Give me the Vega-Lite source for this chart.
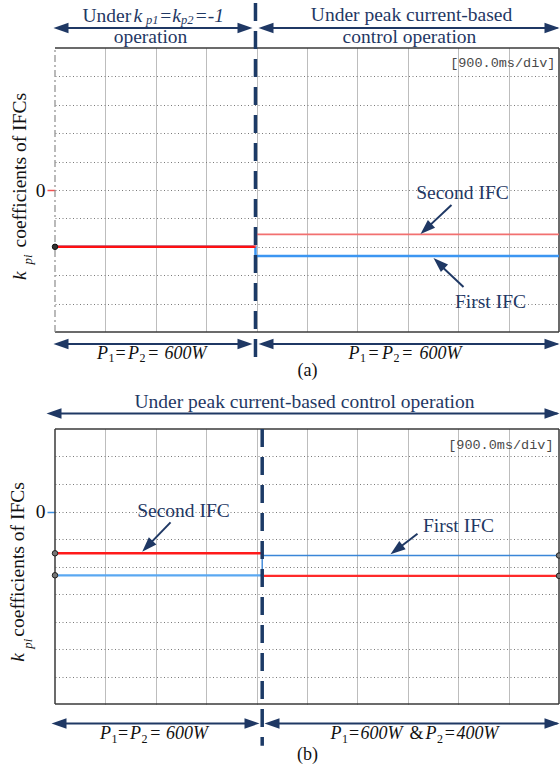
{
  "$schema": "https://vega.github.io/schema/vega-lite/v6.json",
  "background": "white",
  "padding": {"left": 8, "top": 1, "right": 0, "bottom": 0},
  "config": {"view": {"stroke": null}},
  "spacing": 97,
  "bounds": "flush",
  "resolve": {"scale": {"x": "independent", "y": "independent"}},
  "datasets": {
    "trace": [
      {"panel": "a", "series": "first", "phase": "fixed", "t": 0, "v": -1},
      {"panel": "a", "series": "first", "phase": "fixed", "t": 3.58, "v": -1},
      {"panel": "a", "series": "first", "phase": "peak", "t": 3.58, "v": -1},
      {"panel": "a", "series": "first", "phase": "peak", "t": 3.58, "v": -1.16},
      {"panel": "a", "series": "first", "phase": "peak", "t": 9, "v": -1.16},
      {"panel": "a", "series": "second", "phase": "fixed", "t": 0, "v": -1},
      {"panel": "a", "series": "second", "phase": "fixed", "t": 3.58, "v": -1},
      {"panel": "a", "series": "second", "phase": "peak", "t": 3.58, "v": -1},
      {"panel": "a", "series": "second", "phase": "peak", "t": 3.58, "v": -0.78},
      {"panel": "a", "series": "second", "phase": "peak", "t": 9, "v": -0.78},
      {"panel": "b", "series": "first", "phase": "fixed", "t": 0, "v": -1.16},
      {"panel": "b", "series": "first", "phase": "fixed", "t": 3.7, "v": -1.16},
      {"panel": "b", "series": "first", "phase": "peak", "t": 3.7, "v": -1.16},
      {"panel": "b", "series": "first", "phase": "peak", "t": 3.7, "v": -0.8},
      {"panel": "b", "series": "first", "phase": "peak", "t": 9, "v": -0.8},
      {"panel": "b", "series": "second", "phase": "fixed", "t": 0, "v": -0.76},
      {"panel": "b", "series": "second", "phase": "fixed", "t": 3.7, "v": -0.76},
      {"panel": "b", "series": "second", "phase": "peak", "t": 3.73, "v": -1.17},
      {"panel": "b", "series": "second", "phase": "peak", "t": 9, "v": -1.17}
    ],
    "frame": [
      {"panel": "a", "side": "top", "t": 0, "v": 2.5, "t2": 9, "v2": 2.5},
      {"panel": "a", "side": "bottom", "t": 0, "v": -2.5, "t2": 9, "v2": -2.5},
      {"panel": "a", "side": "right", "t": 9, "v": -2.5, "t2": 9, "v2": 2.5},
      {"panel": "a", "side": "left", "t": 0, "v": -2.5, "t2": 0, "v2": 2.5},
      {"panel": "b", "side": "top", "t": 0, "v": 1.5, "t2": 9, "v2": 1.5},
      {"panel": "b", "side": "bottom", "t": 0, "v": -3.5, "t2": 9, "v2": -3.5},
      {"panel": "b", "side": "right", "t": 9, "v": -3.5, "t2": 9, "v2": 1.5},
      {"panel": "b", "side": "left", "t": 0, "v": -3.5, "t2": 0, "v2": 1.5}
    ],
    "divider": [
      {"panel": "a", "t": 3.58, "v": 3.292, "v2": -3.028},
      {"panel": "b", "t": 3.7, "v": 1.5, "v2": -4.258}
    ],
    "shaft": [
      {"panel": "a", "t": 0.08, "v": 2.852, "t2": 3.42, "v2": 2.852},
      {"panel": "a", "t": 3.741, "v": 2.852, "t2": 8.973, "v2": 2.852},
      {"panel": "a", "t": 0.08, "v": -2.711, "t2": 3.42, "v2": -2.711},
      {"panel": "a", "t": 3.741, "v": -2.711, "t2": 8.973, "v2": -2.711},
      {"panel": "a", "t": 7.08, "v": -0.264, "t2": 6.688, "v2": -0.627},
      {"panel": "a", "t": 7.295, "v": -1.708, "t2": 6.902, "v2": -1.342},
      {"panel": "b", "t": -0.045, "v": 1.784, "t2": 8.973, "v2": 1.784},
      {"panel": "b", "t": 0.045, "v": -3.853, "t2": 3.545, "v2": -3.853},
      {"panel": "b", "t": 3.848, "v": -3.853, "t2": 8.973, "v2": -3.853},
      {"panel": "b", "t": 2.063, "v": -0.198, "t2": 1.705, "v2": -0.575},
      {"panel": "b", "t": 6.473, "v": -0.404, "t2": 6.17, "v2": -0.64}
    ],
    "head": [
      {"panel": "a", "t": -0.027, "v": 2.852, "heading": 180},
      {"panel": "a", "t": 3.527, "v": 2.852, "heading": 0},
      {"panel": "a", "t": 3.634, "v": 2.852, "heading": 180},
      {"panel": "a", "t": 9.009, "v": 2.852, "heading": 0},
      {"panel": "a", "t": -0.027, "v": -2.711, "heading": 180},
      {"panel": "a", "t": 3.527, "v": -2.711, "heading": 0},
      {"panel": "a", "t": 3.634, "v": -2.711, "heading": 180},
      {"panel": "a", "t": 9.009, "v": -2.711, "heading": 0},
      {"panel": "a", "t": 6.527, "v": -0.775, "heading": 137},
      {"panel": "a", "t": 6.759, "v": -1.197, "heading": 223},
      {"panel": "b", "t": -0.152, "v": 1.784, "heading": 180},
      {"panel": "b", "t": 9.009, "v": 1.784, "heading": 0},
      {"panel": "b", "t": -0.0625, "v": -3.853, "heading": 180},
      {"panel": "b", "t": 3.652, "v": -3.853, "heading": 0},
      {"panel": "b", "t": 3.741, "v": -3.853, "heading": 180},
      {"panel": "b", "t": 9.009, "v": -3.853, "heading": 0},
      {"panel": "b", "t": 1.557, "v": -0.731, "heading": 134},
      {"panel": "b", "t": 5.991, "v": -0.776, "heading": 143}
    ],
    "probe": [
      {"panel": "a", "t": 0, "v": -1},
      {"panel": "b", "t": 0, "v": -0.76},
      {"panel": "b", "t": 0, "v": -1.16},
      {"panel": "b", "t": 9, "v": -0.8},
      {"panel": "b", "t": 9, "v": -1.17}
    ],
    "note": [
      {"panel": "a", "text": "operation", "t": 1.705, "v": 2.585},
      {"panel": "a", "text": "Under peak current-based", "t": 6.366, "v": 2.981},
      {"panel": "a", "text": "control operation", "t": 6.33, "v": 2.585},
      {"panel": "a", "text": "Second IFC", "t": 7.277, "v": -0.158},
      {"panel": "a", "text": "First IFC", "t": 7.777, "v": -2.069},
      {"panel": "b", "text": "Under peak current-based control operation", "t": 4.455, "v": 1.887},
      {"panel": "b", "text": "Second IFC", "t": 2.295, "v": -0.095},
      {"panel": "b", "text": "First IFC", "t": 7.205, "v": -0.376}
    ],
    "caption": [
      {"panel": "a", "text": "(a)", "t": 4.509, "v": -3.275},
      {"panel": "b", "text": "(b)", "t": 4.509, "v": -4.513}
    ],
    "hdr_up": [
      {"panel": "a", "text": "Under", "t": 0.491, "v": 2.963}
    ],
    "hdr_it": [
      {"panel": "a", "text": "k", "t": 1.402, "v": 2.963},
      {"panel": "a", "text": "=k", "t": 1.857, "v": 2.963},
      {"panel": "a", "text": "=-1", "t": 2.491, "v": 2.963}
    ],
    "hdr_sub": [
      {"panel": "a", "text": "p1", "t": 1.625, "v": 2.919},
      {"panel": "a", "text": "p2", "t": 2.25, "v": 2.919}
    ],
    "load_it": [
      {"panel": "a", "text": "P", "t": 0.75, "v": -2.967},
      {"panel": "a", "text": "P", "t": 1.304, "v": -2.967},
      {"panel": "a", "text": "600W", "t": 1.955, "v": -2.967},
      {"panel": "a", "text": "P", "t": 5.241, "v": -2.967},
      {"panel": "a", "text": "P", "t": 5.839, "v": -2.967},
      {"panel": "a", "text": "600W", "t": 6.509, "v": -2.967},
      {"panel": "b", "text": "P", "t": 0.804, "v": -4.131},
      {"panel": "b", "text": "P", "t": 1.339, "v": -4.131},
      {"panel": "b", "text": "600W", "t": 1.982, "v": -4.131},
      {"panel": "b", "text": "P", "t": 4.92, "v": -4.131},
      {"panel": "b", "text": "600W", "t": 5.455, "v": -4.131},
      {"panel": "b", "text": "P", "t": 6.616, "v": -4.131},
      {"panel": "b", "text": "400W", "t": 7.17, "v": -4.131}
    ],
    "load_up": [
      {"panel": "a", "text": "=", "t": 1.08, "v": -2.967},
      {"panel": "a", "text": "=", "t": 1.665, "v": -2.967},
      {"panel": "a", "text": "=", "t": 5.6, "v": -2.967},
      {"panel": "a", "text": "=", "t": 6.2, "v": -2.967},
      {"panel": "b", "text": "=", "t": 1.125, "v": -4.131},
      {"panel": "b", "text": "=", "t": 1.7, "v": -4.131},
      {"panel": "b", "text": "=", "t": 5.25, "v": -4.131},
      {"panel": "b", "text": "&", "t": 6.33, "v": -4.131},
      {"panel": "b", "text": "=", "t": 6.96, "v": -4.131}
    ],
    "load_sub": [
      {"panel": "a", "text": "1", "t": 0.955, "v": -3.028},
      {"panel": "a", "text": "2", "t": 1.509, "v": -3.028},
      {"panel": "a", "text": "1", "t": 5.446, "v": -3.028},
      {"panel": "a", "text": "2", "t": 6.045, "v": -3.028},
      {"panel": "b", "text": "1", "t": 1.009, "v": -4.204},
      {"panel": "b", "text": "2", "t": 1.545, "v": -4.204},
      {"panel": "b", "text": "1", "t": 5.125, "v": -4.204},
      {"panel": "b", "text": "2", "t": 6.821, "v": -4.204}
    ],
    "ytitle_up": [
      {"panel": "a", "text": "coefficients of IFCs", "t": -0.518, "v": -1.012},
      {"panel": "b", "text": "coefficients of IFCs", "t": -0.545, "v": -2.276}
    ],
    "ytitle_it": [
      {"panel": "a", "text": "k", "t": -0.518, "v": -1.585},
      {"panel": "b", "text": "k", "t": -0.545, "v": -2.731}
    ],
    "ytitle_sub": [
      {"panel": "a", "text": "pi", "t": -0.411, "v": -1.312},
      {"panel": "b", "text": "pi", "t": -0.411, "v": -2.495}
    ],
    "scope": [
      {"panel": "a", "text": "[900.0ms/div]", "t": 8.937, "v": 2.174},
      {"panel": "b", "text": "[900.0ms/div]", "t": 8.902, "v": 1.136}
    ]
  },
  "vconcat": [
    {
      "width": 504,
      "height": 284,
      "encoding": {
        "x": {
          "field": "t", "type": "quantitative",
          "scale": {"domain": [0, 9], "nice": false, "zero": false},
          "axis": {"values": [0.9, 1.8, 2.7, 3.6, 4.5, 5.4, 6.3, 7.2, 8.1], "grid": true, "gridDash": [1, 1], "gridColor": "#7a7a7a", "gridWidth": 1, "labels": false, "ticks": false, "domain": false, "title": null}
        },
        "y": {
          "field": "v", "type": "quantitative",
          "scale": {"domain": [-2.5, 2.5], "nice": false, "zero": false},
          "axis": {"values": [-2, -1.5, -1, -0.5, 0, 0.5, 1, 1.5, 2], "grid": true, "gridDash": [1, 2.5], "gridColor": "#7a7a7a", "gridWidth": 1, "domain": false, "title": null,
            "labelExpr": "datum.value === 0 ? '0' : ''", "labelFont": "Liberation Serif", "labelFontSize": 19.5, "labelColor": "#111111", "labelPadding": 2,
            "ticks": true, "tickSize": 8, "tickWidth": 1.5,
            "tickColor": {"condition": {"test": "datum.value === 0", "value": "#f05050"}, "value": "transparent"}}
        }
      },
      "layer": [
        {"data": {"name": "frame"}, "transform": [{"filter": "datum.panel === 'a' && datum.side !== 'left'"}],
         "mark": {"type": "rule", "color": "#3a3a3a", "strokeWidth": 1.5},
         "encoding": {"x2": {"field": "t2"}, "y2": {"field": "v2"}}},
        {"data": {"name": "frame"}, "transform": [{"filter": "datum.panel === 'a' && datum.side === 'left'"}],
         "mark": {"type": "rule", "color": "#8c8c8c", "strokeWidth": 1.2, "strokeDash": [7, 3, 2, 3]},
         "encoding": {"x2": {"field": "t2"}, "y2": {"field": "v2"}}},
        {"data": {"name": "trace"}, "transform": [{"filter": "datum.panel === 'a' && datum.series === 'first'"}],
         "mark": {"type": "line", "color": "#3c96f2", "strokeWidth": 2.5},
         "encoding": {"order": {"value": null}}},
        {"data": {"name": "trace"}, "transform": [{"filter": "datum.panel === 'a' && datum.series === 'second' && datum.phase === 'fixed'"}],
         "mark": {"type": "line", "color": "#ff1010", "strokeWidth": 2.5},
         "encoding": {"order": {"value": null}}},
        {"data": {"name": "trace"}, "transform": [{"filter": "datum.panel === 'a' && datum.series === 'second' && datum.phase === 'peak'"}],
         "mark": {"type": "line", "color": "#f27070", "strokeWidth": 1.7},
         "encoding": {"order": {"value": null}}},
        {"data": {"name": "divider"}, "transform": [{"filter": "datum.panel === 'a'"}],
         "mark": {"type": "rule", "color": "#1c3a66", "strokeWidth": 3.5, "strokeDash": [18, 10]},
         "encoding": {"y2": {"field": "v2"}}},
        {"data": {"name": "shaft"}, "transform": [{"filter": "datum.panel === 'a'"}],
         "mark": {"type": "rule", "color": "#1f3864", "strokeWidth": 2},
         "encoding": {"x2": {"field": "t2"}, "y2": {"field": "v2"}}},
        {"data": {"name": "head"}, "transform": [{"filter": "datum.panel === 'a'"}],
         "mark": {"type": "point", "shape": "M0,0L-2,-0.7L-2,0.7Z", "size": 225, "filled": true, "color": "#1f3864", "opacity": 1},
         "encoding": {"angle": {"field": "heading", "type": "quantitative", "scale": null}}},
        {"data": {"name": "note"}, "transform": [{"filter": "datum.panel === 'a'"}],
         "mark": {"type": "text", "font": "Liberation Serif", "fontSize": 19.5, "align": "center", "baseline": "alphabetic", "color": "#1f3864"},
         "encoding": {"text": {"field": "text"}}},
        {"data": {"name": "caption"}, "transform": [{"filter": "datum.panel === 'a'"}],
         "mark": {"type": "text", "font": "Liberation Serif", "fontSize": 18, "align": "center", "baseline": "alphabetic", "color": "#111111"},
         "encoding": {"text": {"field": "text"}}},
        {"data": {"name": "hdr_up"},
         "mark": {"type": "text", "font": "Liberation Serif", "fontSize": 19.5, "align": "left", "baseline": "alphabetic", "color": "#1f3864"},
         "encoding": {"text": {"field": "text"}}},
        {"data": {"name": "hdr_it"},
         "mark": {"type": "text", "font": "Liberation Serif", "fontStyle": "italic", "fontSize": 19.5, "align": "left", "baseline": "alphabetic", "color": "#1f3864"},
         "encoding": {"text": {"field": "text"}}},
        {"data": {"name": "hdr_sub"},
         "mark": {"type": "text", "font": "Liberation Serif", "fontStyle": "italic", "fontSize": 12.5, "align": "left", "baseline": "alphabetic", "color": "#1f3864"},
         "encoding": {"text": {"field": "text"}}},
        {"data": {"name": "load_it"}, "transform": [{"filter": "datum.panel === 'a'"}],
         "mark": {"type": "text", "font": "Liberation Serif", "fontStyle": "italic", "fontSize": 18, "align": "left", "baseline": "alphabetic", "color": "#111111"},
         "encoding": {"text": {"field": "text"}}},
        {"data": {"name": "load_up"}, "transform": [{"filter": "datum.panel === 'a'"}],
         "mark": {"type": "text", "font": "Liberation Serif", "fontSize": 18, "align": "left", "baseline": "alphabetic", "color": "#111111"},
         "encoding": {"text": {"field": "text"}}},
        {"data": {"name": "load_sub"}, "transform": [{"filter": "datum.panel === 'a'"}],
         "mark": {"type": "text", "font": "Liberation Serif", "fontSize": 12, "align": "left", "baseline": "alphabetic", "color": "#111111"},
         "encoding": {"text": {"field": "text"}}},
        {"data": {"name": "ytitle_up"}, "transform": [{"filter": "datum.panel === 'a'"}],
         "mark": {"type": "text", "font": "Liberation Serif", "fontSize": 19.5, "angle": 270, "align": "left", "baseline": "alphabetic", "color": "#111111"},
         "encoding": {"text": {"field": "text"}}},
        {"data": {"name": "ytitle_it"}, "transform": [{"filter": "datum.panel === 'a'"}],
         "mark": {"type": "text", "font": "Liberation Serif", "fontStyle": "italic", "fontSize": 19.5, "angle": 270, "align": "left", "baseline": "alphabetic", "color": "#111111"},
         "encoding": {"text": {"field": "text"}}},
        {"data": {"name": "ytitle_sub"}, "transform": [{"filter": "datum.panel === 'a'"}],
         "mark": {"type": "text", "font": "Liberation Serif", "fontStyle": "italic", "fontSize": 13, "angle": 270, "align": "left", "baseline": "alphabetic", "color": "#111111"},
         "encoding": {"text": {"field": "text"}}},
        {"data": {"name": "scope"}, "transform": [{"filter": "datum.panel === 'a'"}],
         "mark": {"type": "text", "font": "Liberation Mono", "fontSize": 13.5, "align": "right", "baseline": "alphabetic", "color": "#4a4a4a"},
         "encoding": {"text": {"field": "text"}}},
        {"data": {"name": "probe"}, "transform": [{"filter": "datum.panel === 'a'"}],
         "mark": {"type": "point", "shape": "circle", "size": 30, "filled": true, "fill": "#333333", "stroke": "#111111", "strokeWidth": 1, "opacity": 1}}
      ]
    },
    {
      "width": 504,
      "height": 275,
      "encoding": {
        "x": {
          "field": "t", "type": "quantitative",
          "scale": {"domain": [0, 9], "nice": false, "zero": false},
          "axis": {"values": [0.9, 1.8, 2.7, 3.6, 4.5, 5.4, 6.3, 7.2, 8.1], "grid": true, "gridDash": [1, 1], "gridColor": "#7a7a7a", "gridWidth": 1, "labels": false, "ticks": false, "domain": false, "title": null}
        },
        "y": {
          "field": "v", "type": "quantitative",
          "scale": {"domain": [-3.5, 1.5], "nice": false, "zero": false},
          "axis": {"values": [-3, -2.5, -2, -1.5, -1, -0.5, 0, 0.5, 1], "grid": true, "gridDash": [1, 2.5], "gridColor": "#7a7a7a", "gridWidth": 1, "domain": false, "title": null,
            "labelExpr": "datum.value === 0 ? '0' : ''", "labelFont": "Liberation Serif", "labelFontSize": 19.5, "labelColor": "#111111", "labelPadding": 2,
            "ticks": true, "tickSize": 8, "tickWidth": 1.5,
            "tickColor": {"condition": {"test": "datum.value === 0", "value": "#3d8fe0"}, "value": "transparent"}}
        }
      },
      "layer": [
        {"data": {"name": "frame"}, "transform": [{"filter": "datum.panel === 'b'"}],
         "mark": {"type": "rule", "color": "#3a3a3a", "strokeWidth": 1.5},
         "encoding": {"x2": {"field": "t2"}, "y2": {"field": "v2"}}},
        {"data": {"name": "trace"}, "transform": [{"filter": "datum.panel === 'b' && datum.series === 'first' && datum.phase === 'fixed'"}],
         "mark": {"type": "line", "color": "#5aa8f2", "strokeWidth": 2.2},
         "encoding": {"order": {"value": null}}},
        {"data": {"name": "trace"}, "transform": [{"filter": "datum.panel === 'b' && datum.series === 'first' && datum.phase === 'peak'"}],
         "mark": {"type": "line", "color": "#3a86d8", "strokeWidth": 1.4},
         "encoding": {"order": {"value": null}}},
        {"data": {"name": "trace"}, "transform": [{"filter": "datum.panel === 'b' && datum.series === 'second' && datum.phase === 'fixed'"}],
         "mark": {"type": "line", "color": "#ff1a1a", "strokeWidth": 2.4},
         "encoding": {"order": {"value": null}}},
        {"data": {"name": "trace"}, "transform": [{"filter": "datum.panel === 'b' && datum.series === 'second' && datum.phase === 'peak'"}],
         "mark": {"type": "line", "color": "#ff2a2a", "strokeWidth": 2.4},
         "encoding": {"order": {"value": null}}},
        {"data": {"name": "divider"}, "transform": [{"filter": "datum.panel === 'b'"}],
         "mark": {"type": "rule", "color": "#1c3a66", "strokeWidth": 3.5, "strokeDash": [18, 10]},
         "encoding": {"y2": {"field": "v2"}}},
        {"data": {"name": "shaft"}, "transform": [{"filter": "datum.panel === 'b'"}],
         "mark": {"type": "rule", "color": "#1f3864", "strokeWidth": 2},
         "encoding": {"x2": {"field": "t2"}, "y2": {"field": "v2"}}},
        {"data": {"name": "head"}, "transform": [{"filter": "datum.panel === 'b'"}],
         "mark": {"type": "point", "shape": "M0,0L-2,-0.7L-2,0.7Z", "size": 225, "filled": true, "color": "#1f3864", "opacity": 1},
         "encoding": {"angle": {"field": "heading", "type": "quantitative", "scale": null}}},
        {"data": {"name": "note"}, "transform": [{"filter": "datum.panel === 'b'"}],
         "mark": {"type": "text", "font": "Liberation Serif", "fontSize": 19.5, "align": "center", "baseline": "alphabetic", "color": "#1f3864"},
         "encoding": {"text": {"field": "text"}}},
        {"data": {"name": "caption"}, "transform": [{"filter": "datum.panel === 'b'"}],
         "mark": {"type": "text", "font": "Liberation Serif", "fontSize": 18, "align": "center", "baseline": "alphabetic", "color": "#111111"},
         "encoding": {"text": {"field": "text"}}},
        {"data": {"name": "load_it"}, "transform": [{"filter": "datum.panel === 'b'"}],
         "mark": {"type": "text", "font": "Liberation Serif", "fontStyle": "italic", "fontSize": 18, "align": "left", "baseline": "alphabetic", "color": "#111111"},
         "encoding": {"text": {"field": "text"}}},
        {"data": {"name": "load_up"}, "transform": [{"filter": "datum.panel === 'b'"}],
         "mark": {"type": "text", "font": "Liberation Serif", "fontSize": 18, "align": "left", "baseline": "alphabetic", "color": "#111111"},
         "encoding": {"text": {"field": "text"}}},
        {"data": {"name": "load_sub"}, "transform": [{"filter": "datum.panel === 'b'"}],
         "mark": {"type": "text", "font": "Liberation Serif", "fontSize": 12, "align": "left", "baseline": "alphabetic", "color": "#111111"},
         "encoding": {"text": {"field": "text"}}},
        {"data": {"name": "ytitle_up"}, "transform": [{"filter": "datum.panel === 'b'"}],
         "mark": {"type": "text", "font": "Liberation Serif", "fontSize": 19.5, "angle": 270, "align": "left", "baseline": "alphabetic", "color": "#111111"},
         "encoding": {"text": {"field": "text"}}},
        {"data": {"name": "ytitle_it"}, "transform": [{"filter": "datum.panel === 'b'"}],
         "mark": {"type": "text", "font": "Liberation Serif", "fontStyle": "italic", "fontSize": 19.5, "angle": 270, "align": "left", "baseline": "alphabetic", "color": "#111111"},
         "encoding": {"text": {"field": "text"}}},
        {"data": {"name": "ytitle_sub"}, "transform": [{"filter": "datum.panel === 'b'"}],
         "mark": {"type": "text", "font": "Liberation Serif", "fontStyle": "italic", "fontSize": 13, "angle": 270, "align": "left", "baseline": "alphabetic", "color": "#111111"},
         "encoding": {"text": {"field": "text"}}},
        {"data": {"name": "scope"}, "transform": [{"filter": "datum.panel === 'b'"}],
         "mark": {"type": "text", "font": "Liberation Mono", "fontSize": 13.5, "align": "right", "baseline": "alphabetic", "color": "#4a4a4a"},
         "encoding": {"text": {"field": "text"}}},
        {"data": {"name": "probe"}, "transform": [{"filter": "datum.panel === 'b'"}],
         "mark": {"type": "point", "shape": "circle", "size": 30, "filled": true, "fill": "#777777", "stroke": "#222222", "strokeWidth": 1, "opacity": 1}}
      ]
    }
  ]
}
